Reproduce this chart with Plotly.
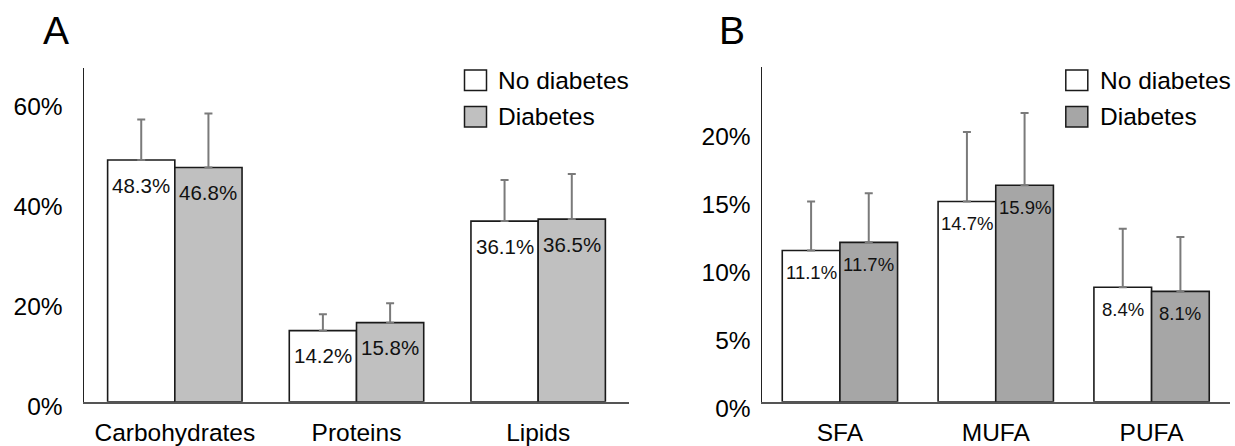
import plotly.graph_objects as go

# ---- data ----
cats_a = ["Carbohydrates", "Proteins", "Lipids"]
nodiab_a = [48.3, 14.2, 36.1]
diab_a = [46.8, 15.8, 36.5]
nodiab_a_sd = [8.1, 3.3, 8.2]
diab_a_sd = [10.8, 3.9, 9.0]

cats_b = ["SFA", "MUFA", "PUFA"]
nodiab_b = [11.1, 14.7, 8.4]
diab_b = [11.7, 15.9, 8.1]
nodiab_b_sd = [3.6, 5.1, 4.3]
diab_b_sd = [3.6, 5.3, 4.0]

ticks_a = [0, 20, 40, 60]
ticks_b = [0, 5, 10, 15, 20]
series_names = ["No diabetes", "Diabetes"]

W, H = 1235, 446
BARGAP = 0.26
FONT = '"Liberation Sans", Arimo, Arial, sans-serif'
gray_a = "#c0c0c0"
gray_b = "#a6a6a6"

fig = go.Figure()

def add_panel(cats, v1, v2, s1, s2, xa, ya, gray):
    idx = list(range(len(cats)))
    for vals, sds, col, name in [(v1, s1, "white", series_names[0]),
                                 (v2, s2, gray, series_names[1])]:
        fig.add_trace(go.Bar(
            x=idx, y=vals, name=name, xaxis=xa, yaxis=ya,
            marker=dict(color=col, line=dict(color="#1a1a1a", width=1.6)),
            error_y=dict(type="data", array=sds, arrayminus=[0] * len(sds),
                         symmetric=False, color="#7a7a7a", thickness=2, width=4),
            showlegend=False, hoverinfo="skip",
        ))

add_panel(cats_a, nodiab_a, diab_a, nodiab_a_sd, diab_a_sd, "x", "y", gray_a)
add_panel(cats_b, nodiab_b, diab_b, nodiab_b_sd, diab_b_sd, "x2", "y2", gray_b)

# value labels inside bars near the top
half = (1 - BARGAP) / 4
ann = []
for vals_pair, xref, yref, fs, ysh in [((nodiab_a, diab_a), "x", "y", 20.5, -25),
                                       ((nodiab_b, diab_b), "x2", "y2", 18.5, -22)]:
    for k, vals in enumerate(vals_pair):
        for i, v in enumerate(vals):
            ann.append(dict(x=i + (-half if k == 0 else half), y=v, xref=xref, yref=yref,
                            text=f"{v:.1f}%", showarrow=False, yshift=ysh,
                            font=dict(family=FONT, size=fs, color="#111111"),
                            xanchor="center", yanchor="middle"))

# panel letters
ann.append(dict(x=56 / W, y=1 - 31 / H, xref="paper", yref="paper", text="A", showarrow=False,
                font=dict(family=FONT, size=39, color="black"), xanchor="center", yanchor="middle"))
ann.append(dict(x=732 / W, y=1 - 31 / H, xref="paper", yref="paper", text="B", showarrow=False,
                font=dict(family=FONT, size=39, color="black"), xanchor="center", yanchor="middle"))

# legends (drawn as boxes + text)
shapes = []
for sq_x0, txt_x, gray in [(464.5, 496.3, gray_a), (1065.8, 1097.6, gray_b)]:
    for j, (col, name) in enumerate([("white", series_names[0]), (gray, series_names[1])]):
        y0 = 70 + j * 36.5
        shapes.append(dict(type="rect", xref="paper", yref="paper",
                           x0=sq_x0 / W, x1=(sq_x0 + 22) / W,
                           y0=1 - (y0 + 20.5) / H, y1=1 - y0 / H,
                           fillcolor=col, line=dict(color="#1a1a1a", width=1.5)))
        ann.append(dict(x=txt_x / W, y=1 - (y0 + 10.5) / H, xref="paper", yref="paper",
                        text=name, showarrow=False, xanchor="left", yanchor="middle",
                        font=dict(family=FONT, size=24.5, color="black")))

axis_common = dict(showgrid=False, zeroline=False, ticks="", automargin=False)
fig.update_layout(
    template="none",
    width=W, height=H, autosize=False,
    margin=dict(l=0, r=0, t=0, b=0, pad=0),
    paper_bgcolor="white", plot_bgcolor="white",
    barmode="group", bargap=BARGAP, bargroupgap=0,
    font=dict(family=FONT, color="black"),
    xaxis=dict(domain=[84 / W, 629 / W], range=[-0.5, 2.5], tickvals=[0, 1, 2], ticktext=cats_a,
               showline=True, linecolor="#555555", linewidth=2, anchor="y",
               tickfont=dict(family=FONT, size=24.5), ticklabelstandoff=8, **axis_common),
    yaxis=dict(domain=[44.3 / H, 1 - 68 / H], range=[0, 66.7], tickvals=ticks_a,
               ticktext=[f"{t}%" for t in ticks_a], showline=True, linecolor="#222222",
               linewidth=1.5, anchor="x", tickfont=dict(family=FONT, size=24.5),
               ticklabelstandoff=15, ticklabelshift=5, **axis_common),
    xaxis2=dict(domain=[762 / W, 1229.5 / W], range=[-0.5, 2.5], tickvals=[0, 1, 2], ticktext=cats_b,
                showline=True, linecolor="#555555", linewidth=2, anchor="y2",
                tickfont=dict(family=FONT, size=24.5), ticklabelstandoff=8, **axis_common),
    yaxis2=dict(domain=[44.3 / H, 1 - 66.7 / H], range=[0, 24.6], tickvals=ticks_b,
                ticktext=[f"{t}%" for t in ticks_b], showline=True, linecolor="#222222",
                linewidth=1.5, anchor="x2", tickfont=dict(family=FONT, size=24.5),
                ticklabelstandoff=5, ticklabelshift=7, **axis_common),
    annotations=ann, shapes=shapes,
)

fig.write_html("out.html", config={"displayModeBar": False, "staticPlot": True},
               post_script="document.body.style.margin='0px';document.body.style.overflow='hidden';")
